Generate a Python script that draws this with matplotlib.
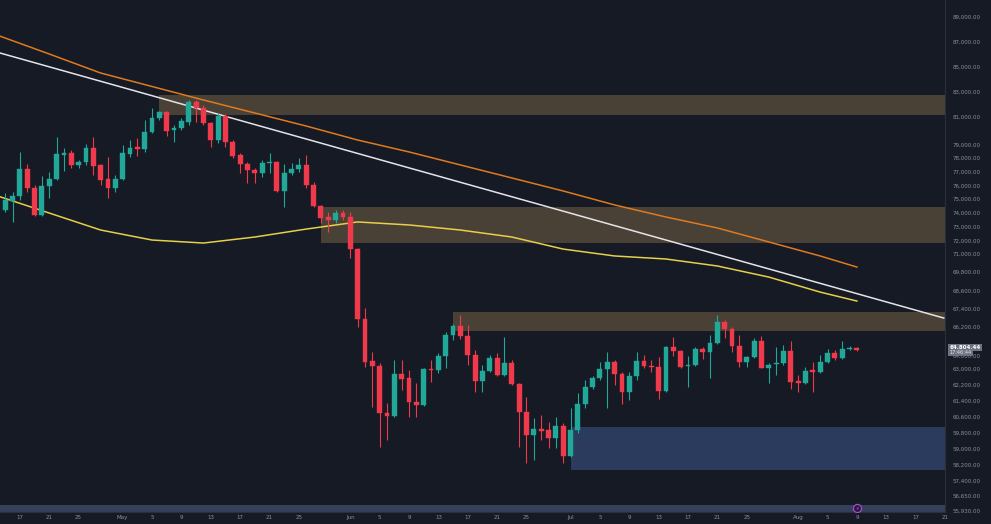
import numpy as np
import pandas as pd
import matplotlib
matplotlib.use("Agg")
import matplotlib.pyplot as plt
import matplotlib.dates as mdates
import matplotlib.transforms as mtransforms

# daily candles, Apr 15 -> Aug 9
start_day = "2024-04-15"
opens = [74210, 74870, 75230, 77200, 75820, 73850, 75960, 76470, 78230, 78370,
         77500, 77720, 78740, 77500, 76470, 75820, 76470, 78300, 78810, 78660,
         79900, 80930, 81400, 80050, 80200, 80640, 82200, 81720, 80560, 79320,
         81080, 79180, 78230, 77570, 77130, 76910, 77640, 77720, 75600, 76910,
         77200, 77500, 76040, 74500, 73700, 73480, 73990, 73700, 71360, 66710,
         63620, 63240, 60800, 60650, 62750, 62550, 61350, 61200, 63000, 62950,
         64000, 65590, 66250, 65520, 64070, 62400, 62900, 63840, 62700, 63460,
         62250, 60850, 59700, 60000, 59950, 59550, 60150, 58650, 59950, 61250,
         62100, 62550, 63000, 63540, 62750, 61850, 62650, 63620, 63240, 63160,
         61900, 64680, 64380, 63240, 63310, 64530, 64300, 64980, 66510, 66050,
         64760, 63540, 63920, 65140, 63080, 63390, 63460, 64380, 62400, 62300,
         62950, 62850, 63540, 64220, 63840, 64530, 64600]
highs = [75450, 75530, 78450, 77570, 76040, 76690, 76990, 79540, 78740, 78590,
         77860, 79030, 79540, 77570, 78080, 76770, 78960, 79320, 79470, 80780,
         81720, 81480, 81480, 80420, 80930, 82360, 82360, 81960, 80640, 81320,
         81240, 79320, 78370, 77720, 77280, 77860, 78370, 77790, 77570, 77640,
         78010, 78230, 76260, 74580, 74070, 74210, 74210, 74070, 71440, 67440,
         64300, 63460, 61300, 63690, 63690, 62950, 62300, 63080, 63690, 64220,
         65820, 66380, 66970, 66310, 64450, 63310, 64070, 64220, 65440, 63690,
         62300, 61600, 60550, 60700, 60350, 60600, 60300, 61050, 61800, 62450,
         62650, 63540, 64300, 63690, 62850, 62850, 64300, 64070, 63690, 63920,
         64760, 65440, 64450, 64000, 64680, 64680, 65590, 66970, 66640, 66180,
         65590, 64000, 65360, 65520, 63460, 64680, 64830, 65140, 62700, 63160,
         63540, 64070, 64530, 64450, 65140, 64760, 64680]
lows = [74070, 73340, 74940, 75530, 73770, 73770, 75090, 76400, 77060, 77280,
        77280, 77500, 76770, 76040, 75090, 75530, 76400, 78080, 78150, 78450,
        79830, 80780, 79610, 79180, 80050, 80420, 80640, 80420, 78810, 79100,
        78810, 78010, 76910, 76180, 76180, 76620, 76910, 75530, 74430, 76770,
        76990, 75820, 74430, 73260, 72610, 73260, 73480, 70740, 66180, 63160,
        61100, 59100, 59450, 60600, 61950, 60600, 60600, 61150, 62350, 62800,
        63080, 65210, 65290, 63310, 61850, 61850, 62850, 62650, 62650, 62200,
        59100, 58300, 58450, 59450, 59050, 59050, 58300, 58600, 59800, 61050,
        62000, 62450, 61050, 62200, 61250, 61450, 62450, 63080, 62850, 61500,
        61850, 64000, 63080, 62100, 63240, 63770, 62550, 64910, 65360, 64300,
        63160, 63160, 63840, 63050, 62300, 62700, 63310, 62000, 61850, 62250,
        61850, 62800, 63460, 63690, 63770, 64450, 64380]
closes = [74940, 75230, 77200, 75820, 73850, 75960, 76470, 78300, 78370, 77500,
          77720, 78740, 77420, 76400, 75820, 76470, 78370, 78740, 78660, 79900,
          80930, 81400, 79980, 80200, 80710, 82200, 81720, 80560, 79320, 81080,
          79180, 78150, 77570, 77130, 76910, 77640, 77720, 75600, 76910, 77200,
          77500, 76040, 74500, 73630, 73480, 73990, 73700, 71360, 66710, 63540,
          63240, 60800, 60650, 62750, 62500, 61350, 61200, 63000, 62950, 64000,
          65590, 66250, 65520, 64070, 62400, 62900, 63840, 62700, 63460, 62250,
          60850, 59700, 60000, 59900, 59550, 60150, 58650, 59950, 61250, 62100,
          62550, 63000, 63540, 62750, 61850, 62650, 63620, 63240, 63160, 61900,
          64680, 64380, 63160, 63310, 64530, 64300, 64980, 66510, 66050, 64760,
          63540, 63920, 65140, 63080, 63310, 63460, 64380, 62350, 62300, 62900,
          62850, 63540, 64220, 63840, 64530, 64600, 64450]

# moving averages, read weekly
ma_dates = ["2024-04-14", "2024-04-21", "2024-04-28", "2024-05-05", "2024-05-12",
            "2024-05-19", "2024-05-26", "2024-06-02", "2024-06-09", "2024-06-16",
            "2024-06-23", "2024-06-30", "2024-07-07", "2024-07-14", "2024-07-21",
            "2024-07-28", "2024-08-04", "2024-08-09"]
ma_slow = [87530, 86040, 84520, 83440, 82360, 81320, 80340, 79320, 78450, 77500,
           76550, 75600, 74580, 73700, 72900, 71880, 70870, 70140]
ma_fast = [75230, 73990, 72750, 72020, 71800, 72240, 72820, 73340, 73120, 72750,
           72240, 71360, 70870, 70670, 70210, 69480, 68490, 67900]

# trend line end points
trend_dates = ["2024-04-14 07:00", "2024-08-20 20:00"]
trend_prices = [86120, 66780]

# zones: start date, low, high
zone_starts = ["2024-05-06", "2024-05-28", "2024-06-15", "2024-07-01"]
zone_lows = [81160, 71800, 65900, 57950]
zone_highs = [82760, 74430, 67170, 60100]
zone_colors = ["#4a4136", "#4a4136", "#4a4136", "#2a3b5e"]

last_price = 64804.44
last_time = "17:46:44"

price_ticks = [89000, 87000, 85000, 83000, 81000, 79000, 78000, 77000, 76000,
               75000, 74000, 73000, 72000, 71000, 69800, 68600, 67400, 66200,
               64000, 63000, 62200, 61400, 60600, 59800, 59000, 58200, 57400,
               56650, 55930]

date_ticks = ["2024-04-17", "2024-04-21", "2024-04-25", "2024-05-01", "2024-05-05",
              "2024-05-09", "2024-05-13", "2024-05-17", "2024-05-21", "2024-05-25",
              "2024-06-01", "2024-06-05", "2024-06-09", "2024-06-13", "2024-06-17",
              "2024-06-21", "2024-06-25", "2024-07-01", "2024-07-05", "2024-07-09",
              "2024-07-13", "2024-07-17", "2024-07-21", "2024-07-25", "2024-08-01",
              "2024-08-05", "2024-08-09", "2024-08-13", "2024-08-17", "2024-08-21"]
date_labels = ["17", "21", "25", "May", "5", "9", "13", "17", "21", "25",
               "Jun", "5", "9", "13", "17", "21", "25", "Jul", "5", "9",
               "13", "17", "21", "25", "Aug", "5", "9", "13", "17", "21"]

# the price axis of the screenshot is not linear, this is its spacing
scale_pos = np.array([-100, 17, 117, 254, 327, 369, 511, 600])
scale_price = np.array([98360, 89000, 81000, 71000, 66190, 63000, 55900, 51450])


def fwd(p):
    return np.interp(p, scale_price[::-1], -scale_pos[::-1])


def inv(v):
    return np.interp(v, -scale_pos[::-1], scale_price[::-1])


bg = "#151a24"
up_col = "#22a898"
down_col = "#f0394a"
text_col = "#8b909c"

fig = plt.figure(figsize=(9.91, 5.24), dpi=100, facecolor=bg)
ax = fig.add_axes([0, 12 / 524, 945 / 991, 512 / 524])
ax.set_facecolor(bg)
ax.set_yscale("function", functions=(fwd, inv))

x_left = mdates.date2num(pd.Timestamp("2024-04-14 07:00"))
x_right = mdates.date2num(pd.Timestamp("2024-08-20 20:00"))

# zones
for s, lo, hi, c in zip(zone_starts, zone_lows, zone_highs, zone_colors):
    x0 = mdates.date2num(pd.Timestamp(s))
    ax.fill_between([x0, x_right + 5], lo, hi, color=c, lw=0, zorder=1)

# bottom band
ax.fill_between([x_left - 5, x_right + 5], 55700, 56200, color="#34405c", lw=0, zorder=1)

# lines
ma_x = mdates.date2num(pd.to_datetime(ma_dates))
ax.plot(ma_x, ma_slow, color="#e07a1f", lw=1.1, zorder=2)
ax.plot(ma_x, ma_fast, color="#e6cf4a", lw=1.1, zorder=2)
ax.plot(mdates.date2num(pd.to_datetime(trend_dates)), trend_prices,
        color="#e4e4e8", lw=1.1, zorder=2)

# candles
days = mdates.date2num(pd.date_range(start_day, periods=len(opens), freq="D"))
o = np.array(opens)
h = np.array(highs)
l = np.array(lows)
c = np.array(closes)
cols = np.where(c >= o, up_col, down_col)
ax.vlines(days, l, h, colors=cols, lw=0.8, zorder=3)
bottoms = np.minimum(o, c)
heights = np.abs(c - o)
ax.bar(days, heights, bottom=bottoms, width=0.66, color=cols,
       edgecolor=cols, lw=0.3, zorder=4)

# icon on the band
ax.scatter([days[-1]], [56050], s=34, facecolor="#2b1838",
           edgecolor="#a24bd0", lw=0.9, zorder=5)
ax.text(days[-1], 56050, "\u26a1", fontsize=3.5, color="#c77dff",
        ha="center", va="center", zorder=6)

ax.set_xlim(x_left, x_right)
ax.set_ylim(55850, 90360)

ax.set_xticks(mdates.date2num(pd.to_datetime(date_ticks)))
ax.set_xticklabels(date_labels)
ax.yaxis.tick_right()
ax.set_yticks(price_ticks)
ax.set_yticklabels(["{:,.2f}".format(v) for v in price_ticks])
ax.yaxis.set_minor_locator(matplotlib.ticker.NullLocator())
ax.tick_params(axis="both", length=0, labelsize=4, colors=text_col)
ax.tick_params(axis="x", pad=2.5)
ax.tick_params(axis="y", pad=5.5)

for side in ["top", "left"]:
    ax.spines[side].set_visible(False)
for side in ["right", "bottom"]:
    ax.spines[side].set_color("#2b2f3a")
    ax.spines[side].set_linewidth(0.8)

# last price tag, sits on the last close
trans = mtransforms.blended_transform_factory(ax.transAxes, ax.transData)
ax.text(1.005, closes[-1], "{:,.2f}".format(last_price), transform=trans,
        fontsize=4, color="white", fontweight="bold", va="bottom", ha="left",
        bbox=dict(boxstyle="square,pad=0.25", fc="#6b7282", ec="none"), zorder=6)
ax.text(1.005, closes[-1], last_time, transform=trans,
        fontsize=3.6, color="#e4e6ea", va="top", ha="left",
        bbox=dict(boxstyle="square,pad=0.25", fc="#6b7282", ec="none"), zorder=6)

fig.savefig("out.png", dpi=100, facecolor=bg)
